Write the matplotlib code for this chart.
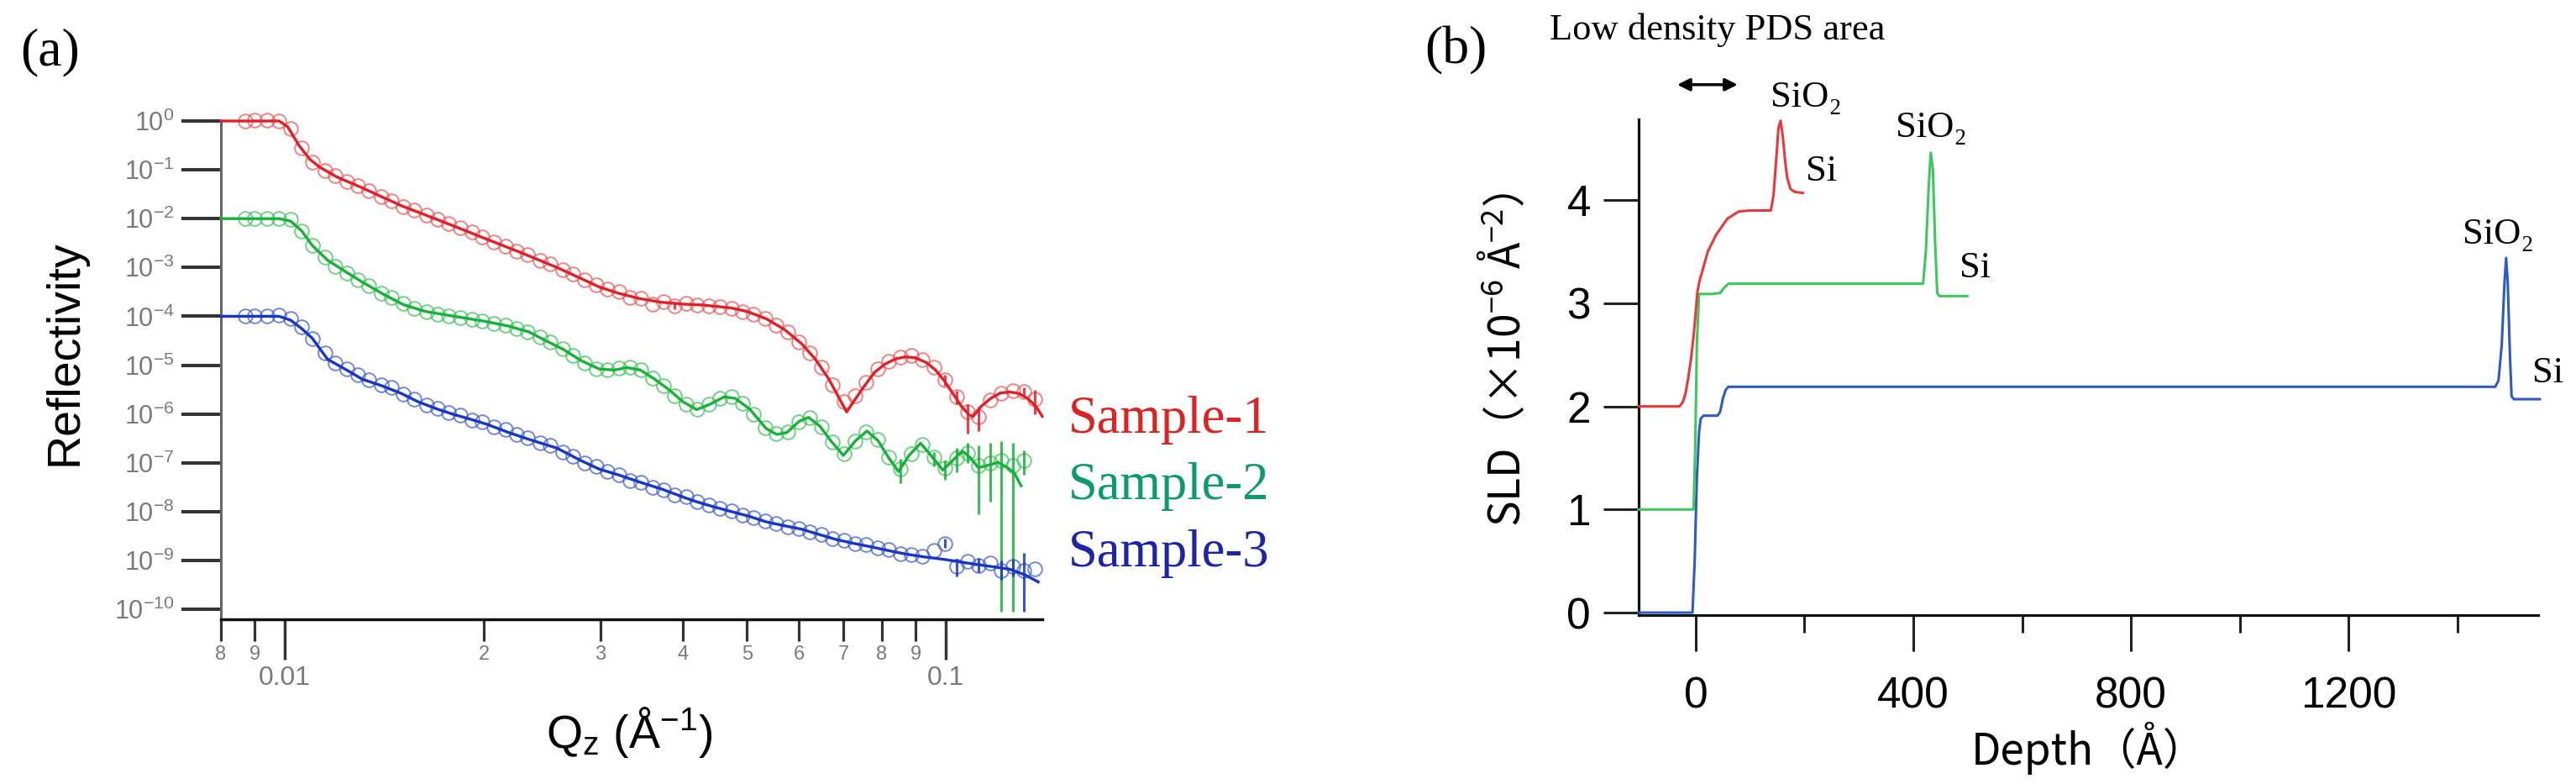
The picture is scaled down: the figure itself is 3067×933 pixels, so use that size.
import numpy as np
import matplotlib
matplotlib.use("Agg")
import matplotlib.pyplot as plt
from matplotlib.ticker import FixedLocator, FuncFormatter, NullLocator, LogLocator

plt.rcParams['font.family'] = ['Liberation Sans', 'DejaVu Sans']
plt.rcParams['mathtext.fontset'] = 'custom'
plt.rcParams['mathtext.rm'] = 'Liberation Sans'
plt.rcParams['mathtext.it'] = 'Liberation Sans:italic'

# ---------------- (a) reflectivity data ----------------
q_data = [0.0087, 0.0090, 0.0094, 0.0098, 0.0102, 0.0106, 0.0110, 0.0115, 0.0119, 0.0124,
          0.0129, 0.0134, 0.0140, 0.0145, 0.0151, 0.0157, 0.0164, 0.0170, 0.0177, 0.0184,
          0.0192, 0.0199, 0.0207, 0.0216, 0.0224, 0.0233, 0.0243, 0.0252, 0.0263, 0.0273,
          0.0284, 0.0296, 0.0307, 0.0320, 0.0333, 0.0346, 0.0360, 0.0374, 0.0389, 0.0405,
          0.0421, 0.0438, 0.0455, 0.0474, 0.0493, 0.0512, 0.0533, 0.0554, 0.0576, 0.0599,
          0.0623, 0.0648, 0.0674, 0.0701, 0.0729, 0.0758, 0.0789, 0.0820, 0.0853, 0.0887,
          0.0922, 0.0959, 0.0998, 0.1038, 0.1079, 0.1122, 0.1167, 0.1214, 0.1262, 0.1313,
          0.1365]

# log10(R) of measured points
s1_logR = [0.0, 0.02, 0.01, 0.0, -0.15, -0.55, -0.85, -1.02, -1.12, -1.24,
           -1.33, -1.42, -1.55, -1.63, -1.76, -1.83, -1.93, -2.01, -2.10, -2.18,
           -2.28, -2.38, -2.47, -2.57, -2.66, -2.74, -2.85, -2.93, -3.05, -3.14,
           -3.26, -3.36, -3.44, -3.50, -3.62, -3.64, -3.75, -3.70, -3.78, -3.74,
           -3.77, -3.79, -3.81, -3.84, -3.90, -3.96, -4.05, -4.18, -4.32, -4.52,
           -4.75, -5.05, -5.40, -5.75, -5.62, -5.35, -5.08, -4.92, -4.84, -4.80,
           -4.88, -5.05, -5.30, -5.65, -5.95, -6.05, -5.72, -5.58, -5.52, -5.55,
           -5.70]
s2_logR = [-2.0, -1.99, -2.0, -1.99, -2.02, -2.25, -2.55, -2.78, -2.98, -3.12,
           -3.25, -3.38, -3.52, -3.62, -3.74, -3.84, -3.91, -3.95, -3.99, -4.03,
           -4.07, -4.10, -4.14, -4.19, -4.25, -4.32, -4.42, -4.52, -4.66, -4.80,
           -4.95, -5.07, -5.10, -5.06, -5.04, -5.10, -5.26, -5.42, -5.62, -5.80,
           -5.90, -5.80, -5.68, -5.65, -5.78, -6.00, -6.28, -6.40, -6.36, -6.16,
           -6.08, -6.26, -6.58, -6.82, -6.56, -6.36, -6.52, -6.88, -7.12, -6.82,
           -6.62, -6.88, -7.10, -6.90, -6.80, -7.05, -7.00, -6.95, -7.05, -6.95]
s3_logR = [-4.0, -3.99, -4.0, -3.98, -4.05, -4.22, -4.45, -4.75, -4.95, -5.08,
           -5.20, -5.30, -5.40, -5.46, -5.60, -5.70, -5.82, -5.88, -5.97, -6.02,
           -6.12, -6.16, -6.26, -6.32, -6.42, -6.48, -6.60, -6.64, -6.78, -6.86,
           -7.00, -7.08, -7.18, -7.24, -7.36, -7.40, -7.50, -7.55, -7.66, -7.70,
           -7.80, -7.86, -7.94, -7.98, -8.07, -8.12, -8.20, -8.24, -8.32, -8.34,
           -8.42, -8.47, -8.55, -8.58, -8.66, -8.68, -8.75, -8.78, -8.86, -8.88,
           -8.92, -8.80, -8.65, -9.12, -9.02, -9.10, -9.05, -9.20, -9.12, -9.20,
           -9.18]

# fitted curves
s1_fit_q = [0.0080, 0.0098, 0.0101, 0.0105, 0.0109, 0.0113, 0.0120, 0.0130, 0.0140, 0.0151,
            0.0165, 0.0180, 0.0202, 0.0228, 0.0258, 0.0280, 0.0299, 0.0320, 0.0345, 0.0370,
            0.0400, 0.0430, 0.0474, 0.0500, 0.0535, 0.0570, 0.0605, 0.0635, 0.0665, 0.0690,
            0.0708, 0.0725, 0.0751, 0.0780, 0.0809, 0.0840, 0.0870, 0.0900, 0.0935, 0.0965,
            0.0995, 0.1025, 0.1057, 0.1085, 0.1100, 0.1130, 0.1170, 0.1210, 0.1250, 0.1290,
            0.1330, 0.1370, 0.1400]
s1_fit_logR = [0.0, 0.0, -0.12, -0.50, -0.78, -0.95, -1.15, -1.35, -1.55, -1.75,
               -1.95, -2.15, -2.42, -2.70, -3.00, -3.22, -3.40, -3.53, -3.64, -3.71,
               -3.75, -3.77, -3.83, -3.90, -4.05, -4.27, -4.56, -4.88, -5.28, -5.68,
               -5.96, -5.75, -5.45, -5.15, -4.98, -4.87, -4.83, -4.85, -4.95, -5.10,
               -5.32, -5.58, -5.85, -6.02, -6.05, -5.85, -5.68, -5.57, -5.55, -5.58,
               -5.68, -5.85, -6.05]
s2_fit_q = [0.0080, 0.0098, 0.0102, 0.0106, 0.0110, 0.0116, 0.0124, 0.0131, 0.0141, 0.0151,
            0.0163, 0.0175, 0.0190, 0.0202, 0.0218, 0.0234, 0.0250, 0.0264, 0.0280, 0.0299,
            0.0315, 0.0329, 0.0345, 0.0362, 0.0381, 0.0400, 0.0420, 0.0440, 0.0462, 0.0480,
            0.0505, 0.0535, 0.0555, 0.0575, 0.0600, 0.0620, 0.0645, 0.0670, 0.0700, 0.0730,
            0.0760, 0.0790, 0.0820, 0.0848, 0.0880, 0.0916, 0.0950, 0.0990, 0.1025, 0.1060,
            0.1090, 0.1120, 0.1160, 0.1200, 0.1240, 0.1270, 0.1300]
s2_fit_logR = [-2.0, -2.0, -2.05, -2.25, -2.55, -2.85, -3.10, -3.30, -3.55, -3.76,
               -3.90, -3.97, -4.05, -4.11, -4.20, -4.32, -4.52, -4.68, -4.90, -5.08,
               -5.10, -5.05, -5.10, -5.28, -5.50, -5.75, -5.91, -5.80, -5.65, -5.68,
               -5.90, -6.30, -6.42, -6.38, -6.15, -6.07, -6.25, -6.55, -6.85, -6.55,
               -6.35, -6.55, -6.90, -7.18, -6.85, -6.60, -6.85, -7.15, -6.95, -6.76,
               -6.90, -7.10, -7.05, -6.99, -7.10, -7.21, -7.47]
s3_fit_q = [0.0080, 0.0098, 0.0102, 0.0106, 0.0110, 0.0116, 0.0124, 0.0131, 0.0140, 0.0150,
            0.0159, 0.0170, 0.0180, 0.0190, 0.0202, 0.0218, 0.0234, 0.0258, 0.0280, 0.0299,
            0.0320, 0.0345, 0.0372, 0.0400, 0.0420, 0.0445, 0.0474, 0.0505, 0.0535, 0.0570,
            0.0605, 0.0640, 0.0682, 0.0725, 0.0770, 0.0820, 0.0870, 0.0930, 0.0995, 0.1050,
            0.1110, 0.1180, 0.1250, 0.1320, 0.1380]
s3_fit_logR = [-4.0, -4.0, -4.08, -4.25, -4.45, -4.88, -5.10, -5.29, -5.42, -5.58,
               -5.75, -5.90, -6.01, -6.10, -6.21, -6.38, -6.52, -6.70, -6.95, -7.13,
               -7.25, -7.40, -7.54, -7.70, -7.80, -7.90, -8.00, -8.10, -8.21, -8.29,
               -8.36, -8.46, -8.57, -8.65, -8.72, -8.80, -8.87, -8.93, -8.98, -9.03,
               -9.08, -9.13, -9.18, -9.30, -9.44]

# error bars (decades below / above the point)
s1_err_q = [0.0389, 0.0998, 0.1038, 0.1079, 0.1122, 0.1313, 0.1365]
s1_err_logR = [-3.78, -5.30, -5.65, -5.95, -6.05, -5.55, -5.70]
s1_err_lo = [0.08, 0.12, 0.15, 0.45, 0.30, 0.12, 0.30]
s1_err_hi = [0.08, 0.10, 0.12, 0.15, 0.20, 0.10, 0.20]
s2_err_q = [0.0853, 0.0959, 0.0998, 0.1038, 0.1079, 0.1122, 0.1167, 0.1214, 0.1262, 0.1313]
s2_err_logR = [-7.12, -6.88, -7.10, -6.90, -6.80, -7.05, -7.00, -6.95, -7.05, -6.95]
s2_err_lo = [0.30, 0.20, 0.25, 0.30, 0.20, 1.00, 0.80, 3.10, 3.00, 0.30]
s2_err_hi = [0.20, 0.10, 0.15, 0.20, 0.20, 0.40, 0.40, 0.40, 0.45, 0.20]
s3_err_q = [0.0998, 0.1038, 0.1122, 0.1214, 0.1262, 0.1313]
s3_err_logR = [-8.65, -9.12, -9.10, -9.20, -9.12, -9.20]
s3_err_lo = [0.10, 0.20, 0.15, 0.20, 0.20, 0.85]
s3_err_hi = [0.10, 0.15, 0.15, 0.20, 0.15, 0.35]

sample_names = ['Sample-1', 'Sample-2', 'Sample-3']

# ---------------- (b) SLD profiles ----------------
s1_depth = [-105, -30, -24, -19, -14, -9, -4, 0, 3, 7, 12, 22, 37, 58, 79, 100, 138, 143,
            148, 152, 156, 160, 164, 168, 174, 182, 197]
s1_sld = [2.0, 2.0, 2.04, 2.12, 2.27, 2.45, 2.68, 2.92, 3.11, 3.22, 3.31, 3.50, 3.66, 3.82,
          3.89, 3.90, 3.90, 4.05, 4.40, 4.70, 4.77, 4.62, 4.40, 4.22, 4.11, 4.08, 4.07]
s2_depth = [-105, -4, -1, 2, 6, 30, 45, 52, 60, 75, 200, 418, 423, 428, 432, 436, 440, 444,
            448, 460, 499]
s2_sld = [1.0, 1.0, 1.6, 2.6, 3.09, 3.09, 3.10, 3.15, 3.19, 3.19, 3.19, 3.19, 3.5, 4.1,
          4.46, 4.3, 3.6, 3.1, 3.07, 3.07, 3.07]
s3_depth = [-105, -6, -2, 2, 6, 9, 14, 40, 45, 50, 55, 60, 1470, 1476, 1482, 1487, 1490,
            1493, 1497, 1500, 1504, 1552]
s3_sld = [0.0, 0.0, 0.5, 1.3, 1.75, 1.88, 1.91, 1.91, 1.95, 2.08, 2.16, 2.19, 2.19, 2.25,
          2.6, 3.2, 3.44, 3.2, 2.5, 2.10, 2.07, 2.07]

W, H = 3067, 933
fig = plt.figure(figsize=(W / 100, H / 100), dpi=100)

def fx(px):
    return px / W

def fy(py):
    return 1 - py / H

# colours
c_line = ['#e41e26', '#16b238', '#1536c8']
c_mark = ['#ee5a5a', '#3fc45c', '#4560d0']
c_lab = ['#dd2222', '#0e9a70', '#1c24a8']
c_sld = ['#e8383a', '#3cc85a', '#2e5cc0']

# ================= panel (a) =================
ax = fig.add_axes([fx(263), fy(737), fx(1241 - 263), (737 - 144) / H])
ax.set_xscale('log')
ax.set_yscale('log')

data_sets = [(q_data, s1_logR), (q_data[:70], s2_logR), (q_data, s3_logR)]
fits = [(s1_fit_q, s1_fit_logR), (s2_fit_q, s2_fit_logR), (s3_fit_q, s3_fit_logR)]
errs = [(s1_err_q, s1_err_logR, s1_err_lo, s1_err_hi),
        (s2_err_q, s2_err_logR, s2_err_lo, s2_err_hi),
        (s3_err_q, s3_err_logR, s3_err_lo, s3_err_hi)]

for i in range(3):
    qd, lr = data_sets[i]
    R = 10.0 ** np.array(lr)
    ax.plot(qd, R, 'o', mfc='none', mec=c_mark[i], mew=1.4, ms=12, alpha=0.75,
            clip_on=False, zorder=2)
    eq, elr, elo, ehi = errs[i]
    eR = 10.0 ** np.array(elr)
    lo = eR - 10.0 ** (np.array(elr) - np.array(elo))
    hi = 10.0 ** (np.array(elr) + np.array(ehi)) - eR
    ax.errorbar(eq, eR, yerr=[lo, hi], fmt='none', ecolor=c_line[i], elinewidth=2.2,
                alpha=0.85, clip_on=False, zorder=3)
    fq, flr = fits[i]
    ax.plot(fq, 10.0 ** np.array(flr), '-', color=c_line[i], lw=2.4, clip_on=False, zorder=4)

ax.set_xlim(0.008, 0.14)
ax.set_ylim(10 ** -10.206, 1.0)
for s in ['top', 'right']:
    ax.spines[s].set_visible(False)
ax.spines['left'].set_color('#666666')
ax.spines['left'].set_linewidth(2.2)
ax.spines['bottom'].set_color('#111111')
ax.spines['bottom'].set_linewidth(2.5)

ax.yaxis.set_major_locator(FixedLocator([10.0 ** k for k in range(0, -11, -1)]))
ax.yaxis.set_minor_locator(NullLocator())
ax.yaxis.set_major_formatter(FuncFormatter(
    lambda v, p: r'$\mathregular{10^{%d}}$' % int(round(np.log10(v)))))
ax.xaxis.set_major_locator(FixedLocator([0.01, 0.1]))
ax.xaxis.set_major_formatter(FuncFormatter(lambda v, p: '%g' % v))
ax.xaxis.set_minor_locator(LogLocator(base=10, subs=np.arange(2, 10), numticks=20))
ax.xaxis.set_minor_formatter(FuncFormatter(
    lambda v, p: '%d' % int(round(v / 10 ** np.floor(np.log10(v) + 1e-9)))))

ax.tick_params(axis='y', which='major', length=34, width=2.9, color='#333333',
               labelsize=22, labelcolor='#7a7a7a', pad=6)
ax.tick_params(axis='x', which='major', length=34.5, width=2.5, color='#333333',
               labelsize=23, labelcolor='#7a7a7a', pad=5)
ax.tick_params(axis='x', which='minor', length=19, width=2.3, color='#333333',
               labelsize=17, labelcolor='#7a7a7a', pad=3)

ax.set_ylabel('Reflectivity', fontsize=40, va='center')
ax.yaxis.set_label_coords((78 - 263) / 978, (737 - 420) / 593)
ax.set_xlabel(r'Q$_\mathregular{z}$ (Å$^{\mathregular{-1}}$)', fontsize=40, va='center')
ax.xaxis.set_label_coords((749 - 263) / 978, (737 - 872) / 593)

for i, (name, base) in enumerate(zip(sample_names, [515, 594, 674])):
    fig.text(fx(1272), fy(base), name, fontsize=45, color=c_lab[i], va='baseline',
             ha='left', family=['Liberation Serif', 'DejaVu Serif'])

fig.text(fx(60), fy(62), '(a)', fontsize=46, ha='center', va='center',
         family=['Liberation Serif', 'DejaVu Serif'])
fig.text(fx(1733), fy(60), '(b)', fontsize=46, ha='center', va='center',
         family=['Liberation Serif', 'DejaVu Serif'])

# ================= panel (b) =================
bx = fig.add_axes([fx(1951), fy(732), fx(3022 - 1951), (732 - 142) / H])
profiles = [(s1_depth, s1_sld), (s2_depth, s2_sld), (s3_depth, s3_sld)]
for i in range(3):
    d, s = profiles[i]
    bx.plot(d, s, '-', color=c_sld[i], lw=2.2, clip_on=False, zorder=3 + (2 - i) * 0.1)

bx.set_xlim(-105, 1549)
bx.set_ylim(-0.024, 4.784)
for s in ['top', 'right']:
    bx.spines[s].set_visible(False)
for s in ['left', 'bottom']:
    bx.spines[s].set_color('#111111')
    bx.spines[s].set_linewidth(2.3)

bx.xaxis.set_major_locator(FixedLocator([0, 400, 800, 1200]))
bx.xaxis.set_minor_locator(FixedLocator([200, 600, 1000, 1400]))
bx.yaxis.set_major_locator(FixedLocator([0, 1, 2, 3, 4]))
bx.xaxis.set_major_formatter(FuncFormatter(lambda v, p: '%d' % v))
bx.yaxis.set_major_formatter(FuncFormatter(lambda v, p: '%d' % v))
bx.tick_params(axis='x', which='major', length=31, width=2.2, color='#222222',
               labelsize=37, pad=21)
bx.tick_params(axis='x', which='minor', length=15, width=2.2, color='#222222')
bx.tick_params(axis='y', which='major', length=30, width=2.2, color='#222222',
               labelsize=37, pad=11)

cjk = ['Noto Sans CJK JP', 'DejaVu Sans']
bx.set_ylabel('SLD（×10$^{\\mathregular{-6}}$ Å$^{\\mathregular{-2}}$）', fontsize=37,
              family=cjk, va='center')
bx.yaxis.set_label_coords((1792 - 1951) / 1071, (732 - 428) / 590)
bx.set_xlabel('Depth（Å）', fontsize=37, family=cjk, va='center')
bx.xaxis.set_label_coords(0.5, (732 - 890) / 590)

serif = ['Liberation Serif', 'DejaVu Serif']
ann_fs = 32
bx.text(137, 4.91, 'SiO₂', fontsize=ann_fs, family=serif, va='baseline', ha='left')
bx.text(202, 4.19, 'Si', fontsize=ann_fs, family=serif, va='baseline', ha='left')
bx.text(368, 4.61, 'SiO₂', fontsize=ann_fs, family=serif, va='baseline', ha='left')
bx.text(485, 3.25, 'Si', fontsize=ann_fs, family=serif, va='baseline', ha='left')
bx.text(1410, 3.58, 'SiO₂', fontsize=ann_fs, family=serif, va='baseline', ha='left',
        clip_on=False)
bx.text(1538, 2.23, 'Si', fontsize=ann_fs, family=serif, va='baseline', ha='left',
        clip_on=False)

bx.annotate('', xy=(77, 5.12), xytext=(-34, 5.12),
            arrowprops=dict(arrowstyle='<|-|>', color='k', lw=2.5, mutation_scale=22,
                            shrinkA=0, shrinkB=0),
            annotation_clip=False)
fig.text(fx(1845), fy(47), 'Low density PDS area', fontsize=32, family=serif,
         va='baseline', ha='left')

fig.savefig('out.png', dpi=100)
